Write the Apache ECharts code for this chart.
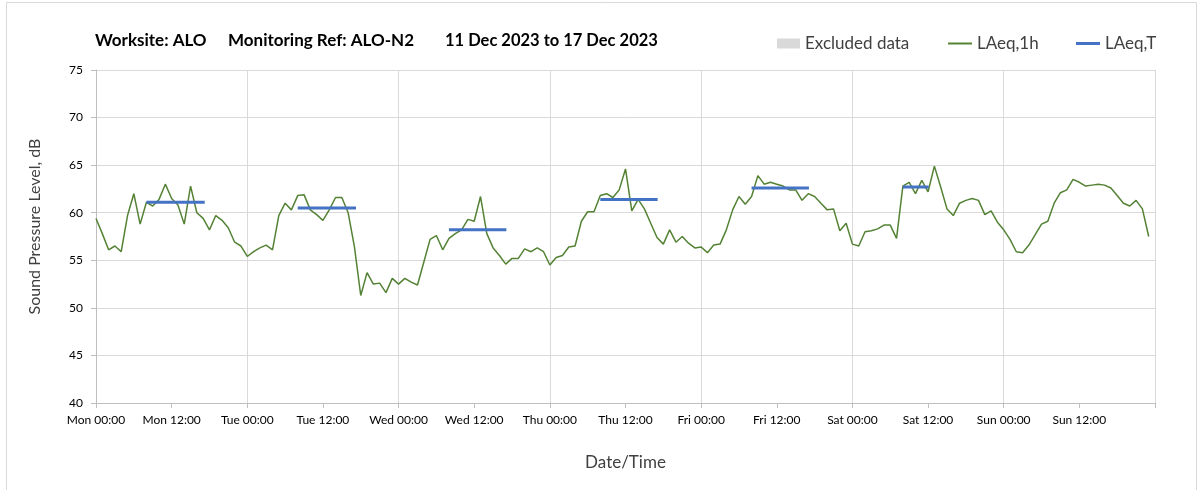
<!DOCTYPE html>
<html>
<head>
<meta charset="utf-8">
<script src="https://cdn.jsdelivr.net/npm/echarts@6/dist/echarts.min.js"></script>
<style>
html,body{margin:0;padding:0;background:#fff;}
#chart{width:1203px;height:490px;}
</style>
</head>
<body>
<div id="chart"></div>
<script>
// Hourly LAeq,1h values from Mon 00:00 (hour 0) to Sun 23:00 (hour 167)
const laeq1h = [
  59.4, 57.8, 56.1, 56.5, 55.9, 59.7, 62.0, 58.8, 61.1, 60.7, 61.4, 63.0,
  61.5, 60.8, 58.8, 62.8, 60.0, 59.4, 58.2, 59.7, 59.2, 58.4, 56.9, 56.5,
  55.4, 55.9, 56.3, 56.6, 56.1, 59.7, 61.0, 60.3, 61.8, 61.9, 60.3, 59.8,
  59.2, 60.3, 61.6, 61.6, 60.0, 56.4, 51.3, 53.7, 52.5, 52.6, 51.6, 53.1,
  52.5, 53.1, 52.7, 52.4, 54.8, 57.2, 57.6, 56.1, 57.3, 57.8, 58.2, 59.3,
  59.1, 61.7, 57.8, 56.3, 55.5, 54.6, 55.2, 55.2, 56.2, 55.9, 56.3, 55.9,
  54.5, 55.3, 55.5, 56.4, 56.5, 59.1, 60.1, 60.1, 61.8, 62.0, 61.6, 62.4,
  64.6, 60.2, 61.4, 60.4, 58.9, 57.4, 56.7, 58.2, 56.9, 57.5, 56.8, 56.3,
  56.4, 55.8, 56.6, 56.7, 58.2, 60.3, 61.7, 60.9, 61.7, 63.9, 63.0, 63.2,
  63.0, 62.8, 62.4, 62.4, 61.3, 62.0, 61.7, 61.0, 60.3, 60.4, 58.1, 58.9,
  56.7, 56.5, 58.0, 58.1, 58.3, 58.7, 58.7, 57.3, 62.8, 63.2, 62.0, 63.4,
  62.2, 64.9, 62.7, 60.4, 59.7, 61.0, 61.3, 61.5, 61.3, 59.8, 60.2, 59.0,
  58.2, 57.2, 55.9, 55.8, 56.6, 57.7, 58.8, 59.1, 61.0, 62.1, 62.4, 63.5,
  63.2, 62.8, 62.9, 63.0, 62.9, 62.6, 61.8, 61.0, 60.7, 61.3, 60.4, 57.5
];
// LAeq,T periods (hours from Mon 00:00) and values
const periodStart = [8, 32, 56, 80, 104, 128];
const periodEnd   = [17.25, 41.25, 65.1, 89.1, 113.1, 132.1];
const laeqT       = [61.1, 60.5, 58.2, 61.4, 62.6, 62.7];
// Axis tick labels
const dayNames = ['Mon', 'Tue', 'Wed', 'Thu', 'Fri', 'Sat', 'Sun'];
const yTicks = {min: 40, max: 75, interval: 5};

const lineData = laeq1h.map((v, h) => [h, v]);
const tData = [];
periodStart.forEach((s, i) => {
  tData.push([s, laeqT[i]]);
  tData.push([periodEnd[i], laeqT[i]]);
  tData.push([periodEnd[i] + 0.01, '-']);
});

const FONT = 'Lato, "Open Sans", sans-serif';
const chart = echarts.init(document.getElementById('chart'), null, {renderer: 'canvas'});
chart.setOption({
  backgroundColor: '#ffffff',
  animation: false,
  textStyle: {fontFamily: FONT},
  graphic: [
    {type: 'rect', shape: {x: 6.5, y: 2.5, width: 1190, height: 500},
     style: {fill: 'none', stroke: '#d9d9d9', lineWidth: 1}, silent: true},
    {type: 'text', left: 95, top: 32, style: {text: 'Worksite: ALO', font: 'bold 17px ' + FONT, fill: '#000'}},
    {type: 'text', left: 228, top: 32, style: {text: 'Monitoring Ref: ALO-N2', font: 'bold 17px ' + FONT, fill: '#000'}},
    {type: 'text', left: 445, top: 32, style: {text: '11 Dec 2023 to 17 Dec 2023', font: 'bold 16.5px ' + FONT, fill: '#000'}}
  ],
  legend: [
    {left: 777, top: 35, padding: 0, itemWidth: 23, itemHeight: 10, itemGap: 0,
     data: [{name: 'Excluded data', icon: 'rect'}],
     textStyle: {fontSize: 17, color: '#404040', fontFamily: FONT}},
    {left: 948, top: 35, padding: 0, itemWidth: 24, itemHeight: 2, itemGap: 0,
     data: [{name: 'LAeq,1h', icon: 'rect'}],
     textStyle: {fontSize: 17, color: '#404040', fontFamily: FONT}},
    {left: 1076, top: 35, padding: 0, itemWidth: 24, itemHeight: 3, itemGap: 0,
     data: [{name: 'LAeq,T', icon: 'rect'}],
     textStyle: {fontSize: 17, color: '#404040', fontFamily: FONT}}
  ],
  grid: {left: 96, right: 48, top: 70, bottom: 87, containLabel: false},
  xAxis: [
    {
      type: 'value', min: 0, max: 168, interval: 12,
      name: 'Date/Time', nameLocation: 'middle', nameGap: 51,
      nameTextStyle: {fontSize: 17, color: '#404040', fontFamily: FONT},
      axisLine: {show: true, lineStyle: {color: '#bfbfbf', width: 1}},
      axisTick: {show: true, length: 5, lineStyle: {color: '#bfbfbf'}},
      splitLine: {show: false},
      axisLabel: {
        margin: 11, fontSize: 12, color: '#000', fontFamily: FONT,
        formatter: function (v) {
          if (v >= 168) return '';
          const d = Math.floor(v / 24);
          const hr = v % 24;
          return dayNames[d] + ' ' + (hr < 10 ? '0' + hr : hr) + ':00';
        }
      }
    },
    {
      type: 'value', min: 0, max: 168, interval: 24, position: 'bottom',
      axisLine: {show: false}, axisTick: {show: false}, axisLabel: {show: false},
      splitLine: {show: true, lineStyle: {color: '#d9d9d9', width: 1}}
    }
  ],
  yAxis: {
    type: 'value', min: yTicks.min, max: yTicks.max, interval: yTicks.interval,
    name: 'Sound Pressure Level, dB', nameLocation: 'middle', nameGap: 53, nameRotate: 90,
    nameTextStyle: {fontSize: 16, color: '#404040', fontFamily: FONT, padding: [0, 0, 0, 20]},
    axisLine: {show: true, lineStyle: {color: '#bfbfbf', width: 1}},
    axisTick: {show: true, length: 5, lineStyle: {color: '#bfbfbf'}},
    axisLabel: {margin: 13, fontSize: 12, color: '#000', fontFamily: FONT},
    splitLine: {show: true, lineStyle: {color: '#d9d9d9', width: 1}}
  },
  series: [
    {name: 'Excluded data', type: 'bar', data: [], itemStyle: {color: '#d9d9d9'}},
    {name: 'LAeq,1h', type: 'line', data: lineData, showSymbol: false, symbol: 'none',
     lineStyle: {color: '#548235', width: 1.5}, itemStyle: {color: '#548235'}, z: 3},
    {name: 'LAeq,T', type: 'line', data: tData, showSymbol: false, symbol: 'none',
     connectNulls: false, lineStyle: {color: '#4472c4', width: 3}, itemStyle: {color: '#4472c4'}, z: 4}
  ]
});
</script>
</body>
</html>
